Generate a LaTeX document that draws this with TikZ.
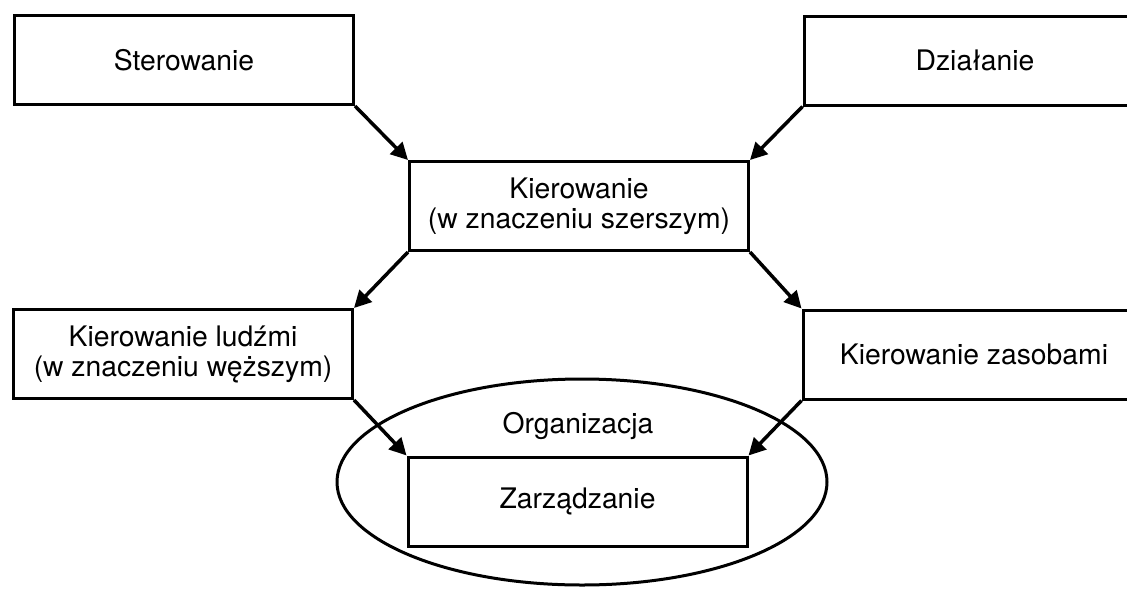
\documentclass[tikz,border=0pt]{standalone}
\usepackage{fontspec}
\setmainfont{TeX Gyre Heros}
\usetikzlibrary{arrows.meta,shapes.geometric}
\tikzset{
  boxnode/.style={draw, line width=3pt, minimum width=339pt, minimum height=89pt, inner sep=0pt, align=center, font=\fontsize{28.3}{30}\selectfont},
  conn/.style={line width=3.5pt, -{Triangle[length=17pt,width=17pt]}},
  lbl/.style={font=\fontsize{28.3}{30}\selectfont, inner sep=0pt}
}
\begin{document}
\begin{tikzpicture}[x=1pt,y=-1pt]
\useasboundingbox (0,0) rectangle (1127,589);
\clip (0,0) rectangle (1127,589);
\fill[white] (0,0) rectangle (1127,589);
\node[draw, ellipse, line width=3pt, minimum width=490pt, minimum height=206pt, inner sep=0pt] (org) at (582,482) {};
\node[lbl, anchor=base] (orglbl) at (578,433) {Organizacja};
\node[boxnode] (ster) at (184,60) {Sterowanie};
\node[boxnode, minimum width=342pt] (dzial) at (975,60.5) {Działanie};
\node[boxnode] (kier) at (579,206) {Kierowanie\\(w znaczeniu szerszym)};
\node[boxnode] (ludz) at (183,354) {Kierowanie ludźmi\\(w znaczeniu węższym)};
\node[boxnode, minimum width=342pt] (zas) at (974,354.5) {Kierowanie zasobami};
\node[boxnode] (zarz) at (577.5,501.5) {Zarządzanie};
\draw[conn] (ster.south east) -- (kier.north west);
\draw[conn] (dzial.south west) -- (kier.north east);
\draw[conn] (kier.south west) -- (ludz.north east);
\draw[conn] (kier.south east) -- (zas.north west);
\draw[conn] (ludz.south east) -- (zarz.north west);
\draw[conn] (zas.south west) -- (zarz.north east);
\end{tikzpicture}
\end{document}
